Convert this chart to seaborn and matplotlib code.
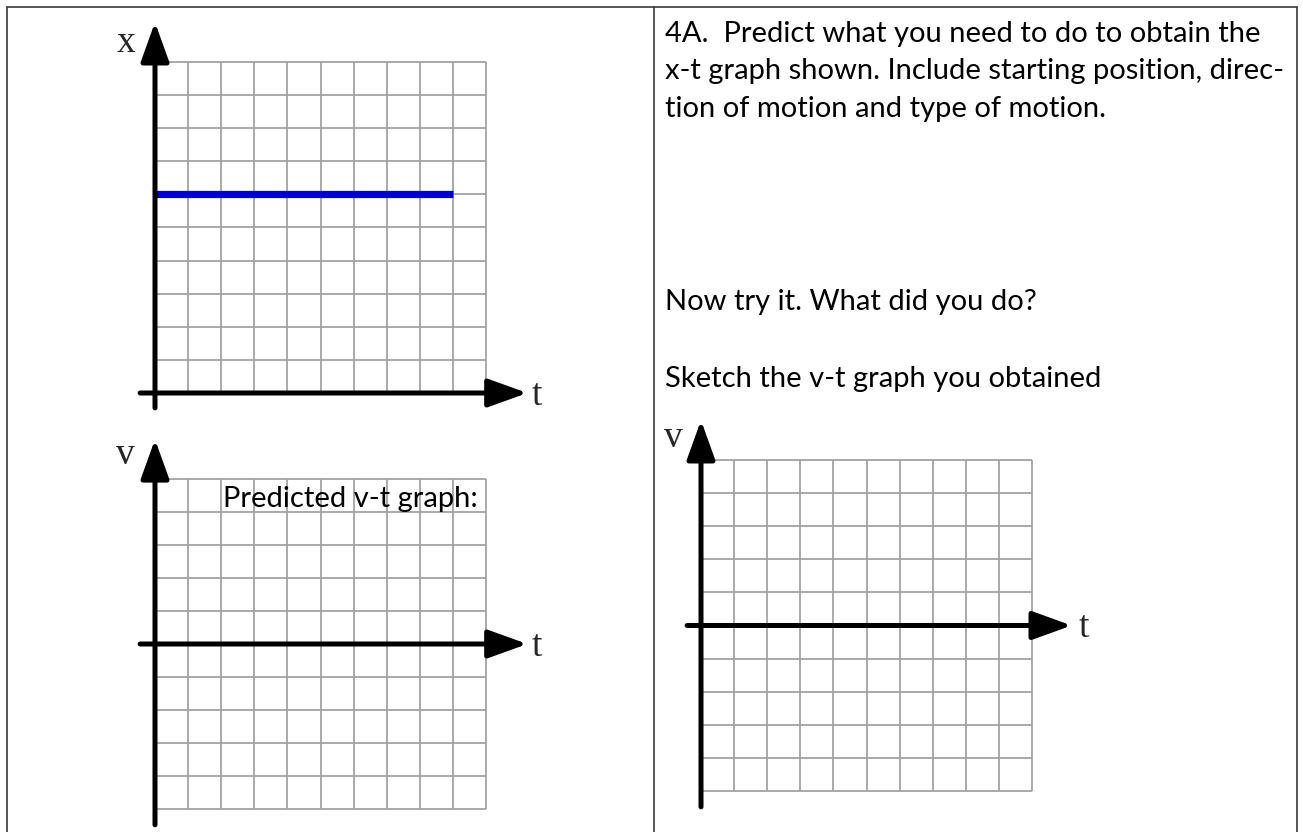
import numpy as np
import pandas as pd
import matplotlib
matplotlib.use("Agg")
import matplotlib.pyplot as plt
from matplotlib.lines import Line2D
import seaborn as sns

# ---------------- data ----------------
t_ticks = list(range(0, 11))          # time grid (10 columns)
x_ticks = list(range(0, 11))          # position grid (0..10)
v_ticks = list(range(-5, 6))          # velocity grid (-5..5)
line_t = [0, 9]                       # x-t graph: constant position
line_x = [6, 6]

question_lines = [
    "4A.  Predict what you need to do to obtain the",
    "x-t graph shown. Include starting position, direc-",
    "tion of motion and type of motion.",
]
prompt_try = "Now try it. What did you do?"
prompt_sketch = "Sketch the v-t graph you obtained"
predicted_label = "Predicted v-t graph:"

# ---------------- setup ----------------
sns.set_theme(style="white")
plt.rcParams["font.family"] = ["Lato", "DejaVu Sans"]

W, H = 1303, 832
fig = plt.figure(figsize=(W / 100, H / 100), dpi=100)
fig.patch.set_facecolor("white")


def fx(x):
    return x / W


def fy(y):
    return 1 - y / H


def add_grid_axes(left, top, width, height):
    ax = fig.add_axes([fx(left), fy(top + height), width / W, height / H])
    ax.set_facecolor("none")
    for s in ax.spines.values():
        s.set_visible(False)
    ax.set_xticks([])
    ax.set_yticks([])
    return ax


GRID_COLOR = "#a3a3a3"
AX_LW = 3.6


def draw_grid(ax, xt, yt):
    ax.set_xlim(xt[0], xt[-1])
    ax.set_ylim(yt[0], yt[-1])
    ax.vlines(xt, yt[0], yt[-1], colors=GRID_COLOR, lw=1.3, zorder=1, clip_on=False)
    ax.hlines(yt, xt[0], xt[-1], colors=GRID_COLOR, lw=1.3, zorder=1, clip_on=False)


def draw_axis_arrows(ax, y0, ybottom, ytop, xleft, xright):
    style = "-|>,head_length=2.0,head_width=0.72"
    ax.annotate("", xy=(0, ytop), xytext=(0, ybottom),
                arrowprops=dict(arrowstyle=style, lw=AX_LW, color="black",
                                shrinkA=0, shrinkB=0),
                annotation_clip=False, zorder=5)
    ax.annotate("", xy=(xright, y0), xytext=(xleft, y0),
                arrowprops=dict(arrowstyle=style, lw=AX_LW, color="black",
                                shrinkA=0, shrinkB=0),
                annotation_clip=False, zorder=5)


def axis_label(ax, x, y, s):
    ax.text(x, y, s, fontsize=27, family=["Liberation Serif", "DejaVu Serif"],
            ha="center", va="baseline", clip_on=False)


# ---------------- top-left: x-t graph ----------------
ax1 = add_grid_axes(155, 62, 331, 331)
draw_grid(ax1, t_ticks, x_ticks)
df = pd.DataFrame({"t": line_t, "x": line_x})
sns.lineplot(data=df, x="t", y="x", ax=ax1, color="#0000c8", lw=5.2,
             solid_capstyle="butt", zorder=3, legend=False)
ax1.set_xlabel("")
ax1.set_ylabel("")
ax1.set_xticks([])
ax1.set_yticks([])
draw_axis_arrows(ax1, 0, -0.45, 11.2, -0.45, 11.25)
axis_label(ax1, -0.88, 10.3, "x")
axis_label(ax1, 11.53, -0.36, "t")

# ---------------- bottom-left: predicted v-t ----------------
ax2 = add_grid_axes(155, 479, 331, 330)
draw_grid(ax2, t_ticks, v_ticks)
draw_axis_arrows(ax2, 0, -5.48, 6.2, -0.45, 11.25)
axis_label(ax2, -0.88, 5.45, "v")
axis_label(ax2, 11.53, -0.36, "t")

# ---------------- right: obtained v-t ----------------
ax3 = add_grid_axes(701, 460, 331, 331)
draw_grid(ax3, t_ticks, v_ticks)
draw_axis_arrows(ax3, 0, -5.48, 6.2, -0.42, 11.2)
axis_label(ax3, -0.82, 5.38, "v")
axis_label(ax3, 11.56, -0.36, "t")

# ---------------- texts ----------------
FS = 21
baselines = [41.7, 79.3, 117.0]
for s, yb in zip(question_lines, baselines):
    fig.text(fx(665), fy(yb), s, fontsize=FS, ha="left", va="baseline", color="black")
fig.text(fx(665), fy(310), prompt_try, fontsize=FS, ha="left", va="baseline", color="black")
fig.text(fx(665), fy(386.7), prompt_sketch, fontsize=FS, ha="left", va="baseline", color="black")
fig.text(fx(223), fy(507), predicted_label, fontsize=FS, ha="left", va="baseline", color="black")

# ---------------- table borders ----------------
BC = "#3a3a3a"
for (x0, y0, x1, y1) in [(6.5, 7, 1297, 7), (6.5, 7, 6.5, H), (653.5, 7, 653.5, H),
                         (1297, 7, 1297, H)]:
    fig.add_artist(Line2D([fx(x0), fx(x1)], [fy(y0), fy(y1)], color=BC, lw=1.2))

fig.savefig("out.png", dpi=100, facecolor="white")
